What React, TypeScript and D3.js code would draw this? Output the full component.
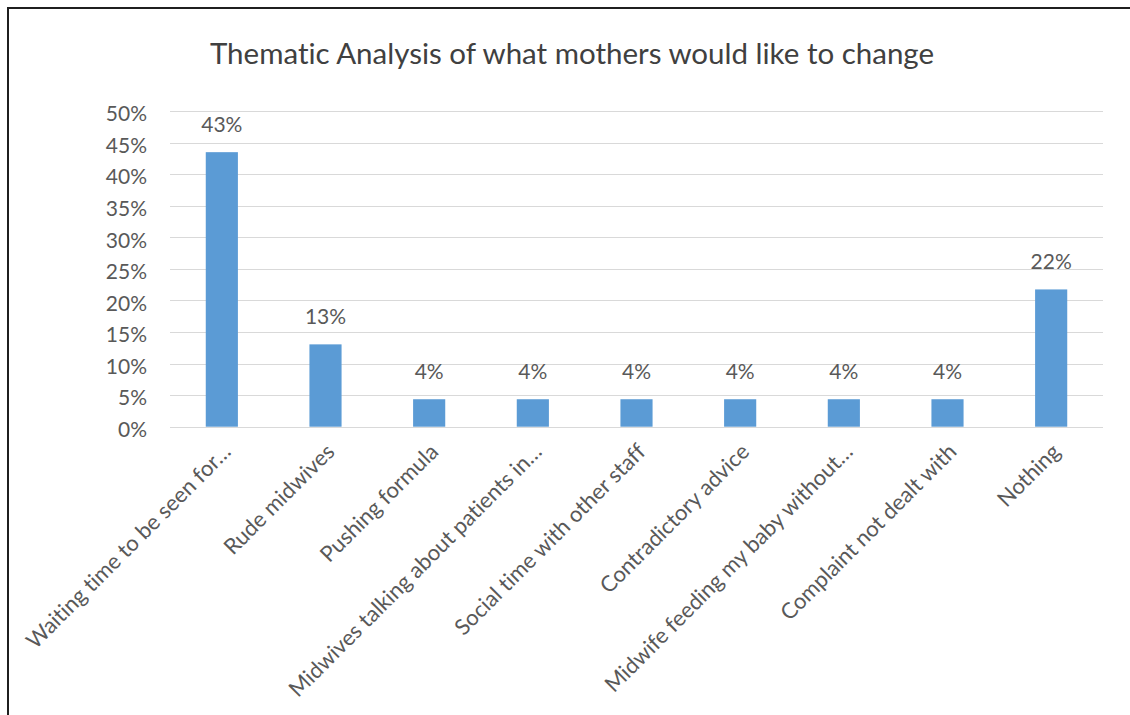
import React from "react";
import * as d3 from "d3";

// Share of mothers' responses per theme (n = 23)
const categories = [
  "Waiting time to be seen for…",
  "Rude midwives",
  "Pushing formula",
  "Midwives talking about patients in…",
  "Social time with other staff",
  "Contradictory advice",
  "Midwife feeding my baby without…",
  "Complaint not dealt with",
  "Nothing",
];
const shares = [0.4348, 0.1304, 0.0435, 0.0435, 0.0435, 0.0435, 0.0435, 0.0435, 0.2174];
const yTicks = [0, 0.05, 0.1, 0.15, 0.2, 0.25, 0.3, 0.35, 0.4, 0.45, 0.5];
const title = "Thematic Analysis of what mothers would like to change";

const W = 1130;
const H = 715;
const plot = { left: 170, right: 1103, top: 111, bottom: 426.7 };
const FONT = "Lato, 'Open Sans', sans-serif";
const TEXT = "#595959";

export default function App() {
  const x = d3
    .scaleBand<string>()
    .domain(categories)
    .range([plot.left, plot.right])
    .paddingInner(0.69)
    .paddingOuter(0.345);
  const y = d3.scaleLinear().domain([0, 0.5]).range([plot.bottom, plot.top]);
  const pct = d3.format(".0%");

  return (
    <svg
      width={W}
      height={H}
      style={{ position: "absolute", left: 0, top: 0, background: "#fff", fontVariantLigatures: "none" }}
      fontFamily={FONT}
    >
      <rect x={0} y={0} width={W} height={H} fill="#fff" />
      {/* chart frame */}
      <rect x={8} y={8} width={W + 100} height={H + 100} fill="none" stroke="#1f1f1f" strokeWidth={2} />

      <text x={572} y={64} textAnchor="middle" fontSize={29.5} fill="#404040">
        {title}
      </text>

      {/* gridlines and y tick labels */}
      {yTicks.map((t) => (
        <g key={t}>
          <line
            x1={plot.left}
            x2={plot.right}
            y1={Math.round(y(t)) + 0.5}
            y2={Math.round(y(t)) + 0.5}
            stroke="#d9d9d9"
            strokeWidth={1}
          />
          <text x={147} y={y(t) + 3} dy="0.35em" textAnchor="end" fontSize={21} fill={TEXT}>
            {pct(t)}
          </text>
        </g>
      ))}

      {/* bars with value labels */}
      {categories.map((c, i) => {
        const v = shares[i];
        const bx = x(c)!;
        const cx = bx + x.bandwidth() / 2;
        return (
          <g key={c}>
            <rect x={bx} y={y(v)} width={x.bandwidth()} height={y(0) - y(v)} fill="#5b9bd5" />
            <text x={cx} y={y(v) - 20} textAnchor="middle" fontSize={21} fill={TEXT}>
              {pct(v)}
            </text>
          </g>
        );
      })}

      {/* rotated category labels */}
      {categories.map((c) => {
        const cx = x(c)! + x.bandwidth() / 2;
        return (
          <text
            key={c}
            transform={`translate(${cx + 5},${plot.bottom + 21}) rotate(-45)`}
            textAnchor="end"
            dy="0.35em"
            fontSize={22}
            fill={TEXT}
          >
            {c}
          </text>
        );
      })}
    </svg>
  );
}
